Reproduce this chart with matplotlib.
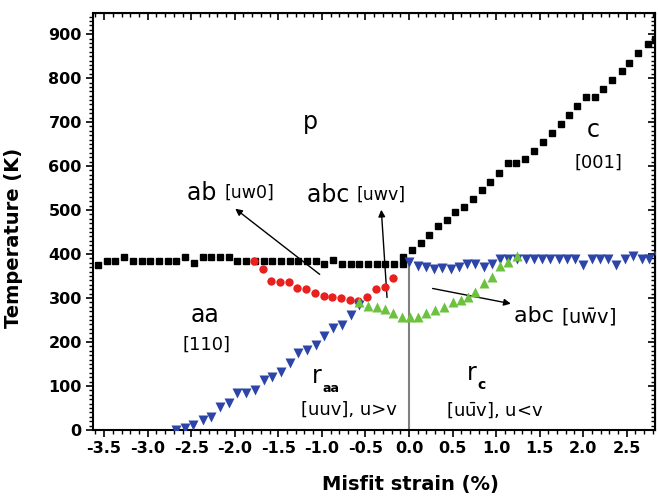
import matplotlib
matplotlib.use("Agg")
import matplotlib.pyplot as plt
from matplotlib.ticker import MultipleLocator

plt.rcParams['font.family'] = ['DejaVu Sans']
plt.rcParams['mathtext.fontset'] = 'dejavusans'

# black squares: p -> aa / p -> c boundary
black_left_x = [-3.57, -3.47, -3.37, -3.27, -3.17, -3.07, -2.97, -2.87, -2.77, -2.67,
                -2.57, -2.47, -2.37, -2.27, -2.17, -2.07, -1.97, -1.87, -1.77, -1.67,
                -1.57, -1.47, -1.37, -1.27, -1.17, -1.07, -0.97, -0.87, -0.77, -0.67,
                -0.57, -0.47, -0.37, -0.27, -0.17, -0.07]
black_left_t = [376, 384, 384, 394, 385, 385, 385, 385, 385, 385,
                394, 380, 393, 393, 393, 393, 385, 385, 385, 385,
                385, 385, 385, 385, 385, 385, 377, 386, 377, 377,
                377, 377, 377, 377, 377, 377]
black_right_x = [-0.07, 0.03, 0.14, 0.23, 0.33, 0.44, 0.53, 0.63, 0.74, 0.84,
                 0.93, 1.03, 1.14, 1.23, 1.33, 1.44, 1.54, 1.64, 1.74, 1.84,
                 1.93, 2.03, 2.14, 2.23, 2.33, 2.44, 2.53, 2.63, 2.74, 2.83]
black_right_t = [393, 409, 425, 443, 464, 477, 496, 507, 525, 545,
                 564, 584, 607, 607, 616, 634, 655, 675, 695, 716,
                 736, 757, 757, 775, 795, 816, 834, 857, 877, 889]

# red circles: aa -> ab
red_x = [-1.78, -1.68, -1.58, -1.48, -1.38, -1.28, -1.18, -1.08, -0.98, -0.88,
         -0.78, -0.68, -0.58, -0.48, -0.38, -0.28, -0.18]
red_t = [384, 366, 339, 336, 337, 323, 320, 312, 305, 302,
         300, 296, 293, 302, 320, 325, 345]

# blue down triangles
blue_left_x = [-2.67, -2.57, -2.48, -2.37, -2.27, -2.17, -2.07, -1.97, -1.87, -1.77,
               -1.67, -1.57, -1.47, -1.37, -1.27, -1.17, -1.07, -0.97, -0.87, -0.77,
               -0.67, -0.57]
blue_left_t = [0, 4, 11, 23, 30, 52, 61, 84, 84, 91,
               114, 120, 132, 152, 175, 182, 193, 213, 232, 239,
               261, 285]
blue_right_x = [0.00, 0.10, 0.19, 0.29, 0.38, 0.48, 0.57, 0.67, 0.76, 0.86,
                0.95, 1.05, 1.14, 1.24, 1.34, 1.43, 1.53, 1.62, 1.72, 1.81,
                1.91, 2.00, 2.10, 2.19, 2.29, 2.38, 2.48, 2.57, 2.67, 2.76, 2.86]
blue_right_t = [382, 374, 370, 366, 368, 366, 371, 377, 377, 371,
                377, 388, 388, 388, 388, 388, 388, 388, 388, 388,
                388, 376, 388, 388, 388, 376, 388, 396, 388, 388, 396]

# green up triangles
green_x = [-0.57, -0.47, -0.37, -0.28, -0.18, -0.08, 0.01, 0.10, 0.20, 0.30,
           0.40, 0.50, 0.60, 0.68, 0.76, 0.86, 0.95, 1.05, 1.14, 1.24]
green_t = [291, 282, 280, 275, 266, 257, 257, 257, 266, 273,
           280, 291, 295, 302, 314, 334, 348, 372, 383, 396]

fig = plt.figure(figsize=(6.58, 4.98), dpi=100)
ax = fig.add_axes([0.1413, 0.1365, 0.8541, 0.8374])

ax.plot([0, 0], [0, 380], color='#808080', lw=1.5, zorder=1)

ax.plot(black_left_x, black_left_t, 's', color='black', ms=5, zorder=3)
ax.plot(black_right_x, black_right_t, 's', color='black', ms=5, zorder=3)
ax.plot(red_x, red_t, 'o', color='#e8201e', ms=6, mec='none', zorder=4)
ax.plot(blue_left_x, blue_left_t, 'v', color='#2d45a8', ms=7, mec='none', zorder=4)
ax.plot(blue_right_x, blue_right_t, 'v', color='#2d45a8', ms=7, mec='none', zorder=4)
ax.plot(green_x, green_t, '^', color='#6cc23e', ms=7, mec='none', zorder=5)

ax.set_xlim(-3.628, 2.824)
ax.set_ylim(0, 948)

ax.xaxis.set_minor_locator(MultipleLocator(0.1))
ax.yaxis.set_minor_locator(MultipleLocator(10))
ax.set_yticks(range(0, 901, 100))
ax.set_xticks([-3.5, -3.0, -2.5, -2.0, -1.5, -1.0, -0.5, 0.0, 0.5, 1.0, 1.5, 2.0, 2.5])
ax.set_xticklabels(['-3.5', '-3.0', '-2.5', '-2.0', '-1.5', '-1.0', '-0.5', '0.0',
                    '0.5', '1.0', '1.5', '2.0', '2.5'])
ax.tick_params(which='major', direction='out', length=5, width=1.2, labelsize=11.5, pad=3)
ax.tick_params(which='minor', direction='out', length=3, width=1)
for lab in ax.get_xticklabels() + ax.get_yticklabels():
    lab.set_fontweight('bold')

top = ax.secondary_xaxis('top')
top.xaxis.set_major_locator(MultipleLocator(0.5))
top.xaxis.set_minor_locator(MultipleLocator(0.1))
top.tick_params(which='major', direction='in', length=5, width=1.2, labeltop=False)
top.tick_params(which='minor', direction='in', length=3, width=1)
right = ax.secondary_yaxis('right')
right.yaxis.set_major_locator(MultipleLocator(100))
right.yaxis.set_minor_locator(MultipleLocator(10))
right.tick_params(which='major', direction='in', length=5, width=1.2, labelright=False)
right.tick_params(which='minor', direction='in', length=3, width=1)
for s in ax.spines.values():
    s.set_linewidth(1.5)

ax.set_xlabel('Misfit strain (%)', fontsize=14, fontweight='bold')
ax.set_ylabel('Temperature (K)', fontsize=14, fontweight='bold')
ax.xaxis.set_label_coords(0.564, -0.108)
ax.yaxis.set_label_coords(-0.125, 0.46)

# phase labels
ax.text(-1.13, 700, 'p', fontsize=17, ha='center', va='center')
ax.text(2.12, 682, 'c', fontsize=17, ha='center', va='center')
ax.text(2.17, 607, '[001]', fontsize=13, ha='center', va='center')
ax.text(-2.34, 261, 'aa', fontsize=17, ha='center', va='center')
ax.text(-2.32, 195, '[110]', fontsize=13, ha='center', va='center')
ax.text(-1.06, 122, 'r', fontsize=17, ha='center', va='center')
ax.text(-0.99, 94, 'aa', fontsize=9, fontweight='bold', ha='left', va='center')
ax.text(-0.69, 45, '[uuv], u>v', fontsize=13, ha='center', va='center')
ax.text(0.72, 130, 'r', fontsize=17, ha='center', va='center')
ax.text(0.79, 102, 'c', fontsize=10, fontweight='bold', ha='left', va='center')
ax.text(0.99, 45, r'[u$\bar{\mathrm{u}}$v], u<v', fontsize=13, ha='center', va='center')

ax.text(-2.12, 539, 'ab ', fontsize=17, ha='right', va='center')
ax.text(-2.12, 539, '[uw0]', fontsize=12.5, ha='left', va='center')
ax.text(-0.6, 534, 'abc ', fontsize=17, ha='right', va='center')
ax.text(-0.6, 534, '[uwv]', fontsize=12.5, ha='left', va='center')
ax.text(1.75, 259, 'abc ', fontsize=16, ha='right', va='center')
ax.text(1.75, 259, r'[u$\bar{\mathrm{w}}$v]', fontsize=14, ha='left', va='center')

arrow = dict(arrowstyle='-|>', color='black', lw=1, mutation_scale=10)
ax.annotate('', xy=(-2.02, 507), xytext=(-1.0, 350), arrowprops=arrow)
ax.annotate('', xy=(-0.32, 507), xytext=(-0.25, 295), arrowprops=arrow)
ax.annotate('', xy=(1.2, 286), xytext=(0.24, 323), arrowprops=arrow)

fig.savefig('out.png', dpi=100)
